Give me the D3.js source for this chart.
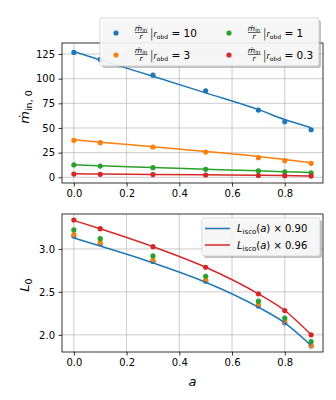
<!DOCTYPE html>
<html><head><meta charset="utf-8">
<script src="https://cdn.jsdelivr.net/npm/d3@7"></script>
<style>body{margin:0;background:#fff}svg{display:block;font-family:"DejaVu Sans",sans-serif}</style>
</head><body><svg id="c" width="336" height="400"></svg>
<script>
const spins = [0, 0.1, 0.3, 0.5, 0.7, 0.8, 0.9];
const xTicks = [0, 0.2, 0.4, 0.6, 0.8];
// top panel: mdot_in,0
const mdot10 = [126.6, 119.5, 103.6, 87.7, 68.2, 56.3, 48.2];
const mdot3 = [37.5, 35.1, 30.7, 25.6, 19.9, 16.8, 14.2];
const mdot1 = [12.5, 11.4, 9.7, 8.1, 6.4, 5.4, 4.4];
const mdot03 = [3.3, 3.0, 2.7, 2.3, 1.8, 1.5, 1.2];
const fit10 = [127.5, 119.0, 102.4, 85.6, 68.6, 58.6, 50.3];
const fit3 = [38.0, 35.6, 31.0, 26.2, 21.0, 18.0, 14.8];
const fit1 = [12.6, 11.6, 9.9, 8.2, 6.6, 5.7, 4.8];
const fit03 = [3.5, 3.3, 2.9, 2.5, 2.0, 1.7, 1.3];
const topYTicks = [0, 25, 50, 75, 100, 125];
// bottom panel: L_0
const L10 = [3.15, 3.06, 2.855, 2.625, 2.335, 2.14, 1.87];
const L3 = [3.167, 3.074, 2.868, 2.636, 2.349, 2.151, 1.876];
const L1 = [3.221, 3.12, 2.919, 2.682, 2.392, 2.194, 1.922];
const L03 = [3.337, 3.236, 3.027, 2.787, 2.477, 2.283, 2.0];
const Lisco090 = [3.128, 3.034, 2.838, 2.613, 2.322, 2.140, 1.875];
const Lisco096 = [3.332, 3.236, 3.027, 2.787, 2.477, 2.283, 2.0];
const botYTicks = [2.0, 2.5, 3.0];
const legendVals = ["10", "3", "1", "0.3"];
const lineFactors = ["0.90", "0.96"];

const C = ["#1f77b4", "#ff7f0e", "#2ca02c", "#d62728"];
const svg = d3.select("#c");
const L = 62, R = 323;
const x = d3.scaleLinear().domain([-0.045, 0.945]).range([L, R]);
const yTop = d3.scaleLinear().domain([-5.8, 136.2]).range([183, 43]);
const yBot = d3.scaleLinear().domain([1.80, 3.407]).range([352, 214]);
const curve = d3.curveMonotoneX;

function panel(y, yTicks, fmt) {
  const g = svg.append("g");
  const [y0, y1] = y.range();
  g.selectAll(".gx").data(xTicks).join("line")
    .attr("x1", d => x(d)).attr("x2", d => x(d)).attr("y1", y1).attr("y2", y0)
    .attr("stroke", "#b0b0b0").attr("stroke-width", 0.8).attr("opacity", 0.8);
  g.selectAll(".gy").data(yTicks).join("line")
    .attr("x1", L).attr("x2", R).attr("y1", d => y(d)).attr("y2", d => y(d))
    .attr("stroke", "#b0b0b0").attr("stroke-width", 0.8).attr("opacity", 0.8);
  const ax = svg.append("g").attr("transform", `translate(0,${y0})`)
    .call(d3.axisBottom(x).tickValues(xTicks).tickFormat(d3.format(".1f")).tickSizeOuter(0).tickSize(3.5).tickPadding(3.5));
  const ay = svg.append("g").attr("transform", `translate(${L},0)`)
    .call(d3.axisLeft(y).tickValues(yTicks).tickFormat(fmt).tickSizeOuter(0).tickSize(3.5).tickPadding(3.5));
  [ax, ay].forEach(a => {
    a.select(".domain").remove();
    a.selectAll("text").attr("font-size", 10).attr("fill", "#000").attr("font-family", "DejaVu Sans");
    a.selectAll("line").attr("stroke", "#000").attr("stroke-width", 0.8);
  });
  return g;
}
function frame(y) {
  const [y0, y1] = y.range();
  svg.append("rect").attr("x", L).attr("y", y1).attr("width", R - L).attr("height", y0 - y1)
    .attr("fill", "none").attr("stroke", "#000").attr("stroke-width", 0.8);
}
function series(y, pts, fit, color) {
  svg.append("g").selectAll("circle").data(pts).join("circle")
    .attr("cx", (d, i) => x(spins[i])).attr("cy", d => y(d)).attr("r", 2.6).attr("fill", color);
  if (fit) {
    svg.append("path").datum(fit)
      .attr("d", d3.line().x((d, i) => x(spins[i])).y(d => y(d)).curve(curve))
      .attr("fill", "none").attr("stroke", color).attr("stroke-width", 1.5);
  }
}

// ---- top panel
panel(yTop, topYTicks, d3.format("d"));
series(yTop, mdot10, fit10, C[0]);
series(yTop, mdot3, fit3, C[1]);
series(yTop, mdot1, fit1, C[2]);
series(yTop, mdot03, fit03, C[3]);
frame(yTop);

// ---- bottom panel
panel(yBot, botYTicks, d3.format(".1f"));
series(yBot, L10, null, C[0]);
series(yBot, L3, null, C[1]);
series(yBot, L1, null, C[2]);
series(yBot, L03, null, C[3]);
svg.append("path").datum(Lisco090)
  .attr("d", d3.line().x((d, i) => x(spins[i])).y(d => yBot(d)).curve(curve))
  .attr("fill", "none").attr("stroke", C[0]).attr("stroke-width", 1.5);
svg.append("path").datum(Lisco096)
  .attr("d", d3.line().x((d, i) => x(spins[i])).y(d => yBot(d)).curve(curve))
  .attr("fill", "none").attr("stroke", C[3]).attr("stroke-width", 1.5);
frame(yBot);

// ---- axis labels
const yl1 = svg.append("text").attr("transform", "translate(29,107) rotate(-90)")
  .attr("text-anchor", "middle").attr("font-size", 13);
yl1.append("tspan").attr("font-style", "italic").text("ṁ");
yl1.append("tspan").attr("font-size", 9.5).attr("dy", 3).text("in, 0");
const yl2 = svg.append("text").attr("transform", "translate(29,285) rotate(-90)")
  .attr("text-anchor", "middle").attr("font-size", 13);
yl2.append("tspan").attr("font-style", "italic").text("L");
yl2.append("tspan").attr("font-size", 9.5).attr("dy", 3).text("0");
svg.append("text").attr("x", x(0.45)).attr("y", 386).attr("text-anchor", "middle")
  .attr("font-size", 13).attr("font-style", "italic").text("a");

// ---- legends
function legendBox(x0, y0, w, h) {
  svg.append("rect").attr("x", x0 + 2).attr("y", y0 + 2).attr("width", w).attr("height", h).attr("rx", 2.5)
    .attr("fill", "#888").attr("opacity", 0.5);
  svg.append("rect").attr("x", x0).attr("y", y0).attr("width", w).attr("height", h).attr("rx", 2.5)
    .attr("fill", "#fff").attr("fill-opacity", 0.85).attr("stroke", "#ccc").attr("stroke-width", 0.8);
}
legendBox(100, 18, 219, 48);
const entries = [[116, 33], [116, 55], [229, 33], [229, 55]];
entries.forEach(([mx, my], i) => {
  svg.append("circle").attr("cx", mx).attr("cy", my).attr("r", 2.6).attr("fill", C[i]);
  const g = svg.append("g").attr("transform", `translate(${mx + 19},${my})`);
  g.append("text").attr("x", 6).attr("y", -2.5).attr("text-anchor", "middle").attr("font-size", 7.5)
    .html('<tspan font-style="italic">ṁ</tspan><tspan font-size="5.5" dy="1.5">in</tspan>');
  g.append("line").attr("x1", 0).attr("x2", 12.5).attr("y1", -0.5).attr("y2", -0.5).attr("stroke", "#000").attr("stroke-width", 0.6);
  g.append("text").attr("x", 6).attr("y", 6).attr("text-anchor", "middle").attr("font-size", 7.5)
    .attr("font-style", "italic").text("r");
  g.append("text").attr("x", 14.5).attr("y", 4.5).attr("font-size", 13).attr("font-weight", 200).text("|");
  const t = g.append("text").attr("x", 18.5).attr("y", 3.5).attr("font-size", 10.5);
  t.append("tspan").attr("font-style", "italic").attr("font-size", 8).text("r");
  t.append("tspan").attr("font-size", 6).attr("dy", 2).text("obd");
  t.append("tspan").attr("dy", -2).text(" = " + legendVals[i]);
});

legendBox(202, 218, 118, 38);
[[228.5, 0], [245, 1]].forEach(([ly, i]) => {
  svg.append("line").attr("x1", 205).attr("x2", 230).attr("y1", ly).attr("y2", ly)
    .attr("stroke", i === 0 ? C[0] : C[3]).attr("stroke-width", 1.5);
  const t = svg.append("text").attr("x", 237).attr("y", ly + 3.5).attr("font-size", 10);
  t.append("tspan").attr("font-style", "italic").text("L");
  t.append("tspan").attr("font-size", 7).attr("dy", 2).text("isco");
  t.append("tspan").attr("dy", -2).text("(");
  t.append("tspan").attr("font-style", "italic").text("a");
  t.append("tspan").text(") × " + lineFactors[i]);
});
</script></body></html>
